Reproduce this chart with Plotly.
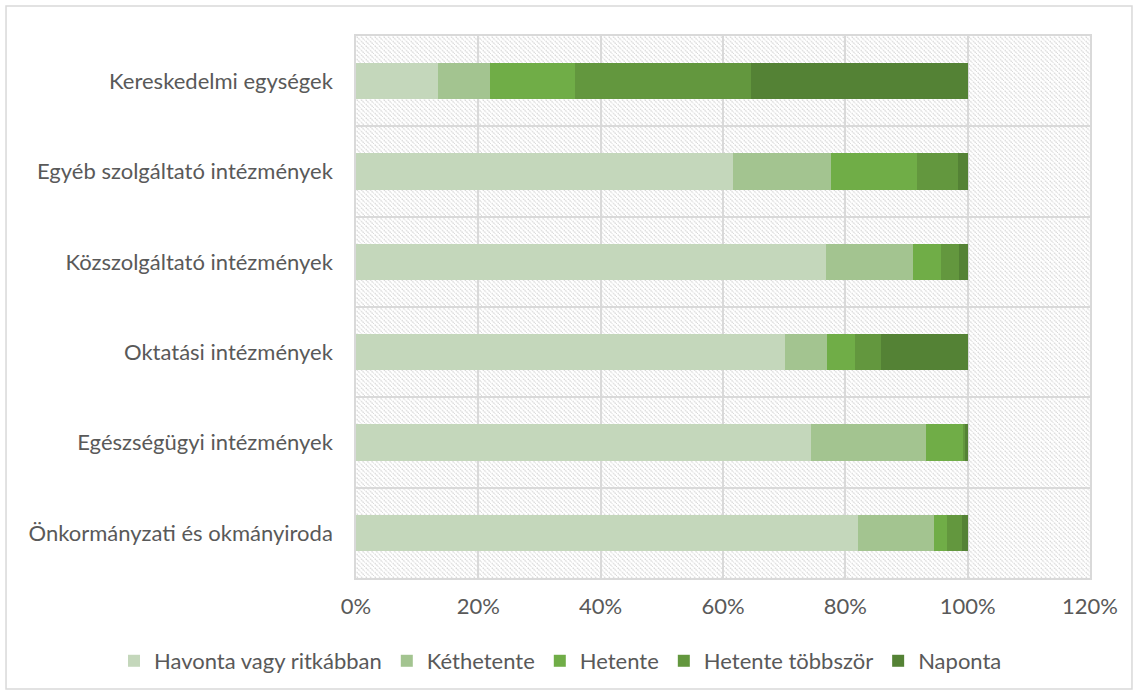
import base64
import plotly.graph_objects as go

categories = [
    "Önkormányzati és okmányiroda",
    "Egészségügyi intézmények",
    "Oktatási intézmények",
    "Közszolgáltató intézmények",
    "Egyéb szolgáltató intézmények",
    "Kereskedelmi egységek",
]

series_names = ["Havonta vagy ritkábban", "Kéthetente", "Hetente", "Hetente többször", "Naponta"]

havonta = [82.1, 74.4, 70.1, 76.8, 61.7, 13.4]
kethetente = [12.4, 18.8, 6.9, 14.3, 15.9, 8.5]
hetente = [2.2, 6.1, 4.6, 4.6, 14.1, 13.9]
hetente_tobbszor = [2.3, 0.3, 4.3, 2.9, 6.8, 28.7]
naponta = [1.0, 0.4, 14.1, 1.4, 1.5, 35.5]

series_values = [havonta, kethetente, hetente, hetente_tobbszor, naponta]
colors = ["#C4D7BB", "#A3C490", "#70AD47", "#63973E", "#548235"]

tick_values = [0, 20, 40, 60, 80, 100, 120]
tick_labels = ["0%", "20%", "40%", "60%", "80%", "100%", "120%"]

FONT = "Lato"
TXT = "#595959"
GRID = "#D9D9D9"
FS = 22

# hatch pattern for the plot area background
W, H = 734, 542
svg = (
    f'<svg xmlns="http://www.w3.org/2000/svg" width="{W}" height="{H}" viewBox="0 0 {W} {H}">'
    '<defs><pattern id="p" width="4.5" height="4.5" patternUnits="userSpaceOnUse">'
    '<path d="M-1,-1 L5.5,5.5" stroke="#C6C6C6" stroke-width="1" stroke-dasharray="1.4,0.9"/>'
    '</pattern></defs>'
    f'<rect width="{W}" height="{H}" fill="white"/>'
    f'<rect width="{W}" height="{H}" fill="url(#p)"/></svg>'
)
svg_uri = "data:image/svg+xml;base64," + base64.b64encode(svg.encode()).decode()

fig = go.Figure()
for name, vals, col in zip(series_names, series_values, colors):
    fig.add_trace(go.Bar(
        y=categories, x=vals, name=name, orientation="h",
        marker=dict(color=col, line=dict(width=0)),
    ))

fig.update_layout(
    barmode="stack",
    bargap=0.6,
    width=1138, height=695,
    margin=dict(l=356, r=48, t=36, b=117, autoexpand=False),
    paper_bgcolor="white",
    plot_bgcolor="rgba(0,0,0,0)",
    font=dict(family=FONT, size=FS, color=TXT),
    showlegend=True,
    legend=dict(
        orientation="h", x=-0.3297, xanchor="left", y=-0.1531, yanchor="middle",
        font=dict(family=FONT, size=FS, color=TXT),
        traceorder="normal", itemwidth=30, bgcolor="rgba(0,0,0,0)",
    ),
    images=[dict(
        source=svg_uri, xref="paper", yref="paper", x=0, y=1,
        sizex=1, sizey=1, sizing="stretch", layer="below", xanchor="left", yanchor="top",
    )],
    shapes=[dict(
        type="rect", xref="paper", yref="paper",
        x0=-0.4768, x1=1.0572, y0=-0.2048, y1=1.0554,
        line=dict(color=GRID, width=1.5), fillcolor="rgba(0,0,0,0)", layer="below",
    )],
)

fig.update_xaxes(
    range=[0, 120], tickvals=tick_values, ticktext=tick_labels,
    showgrid=True, gridcolor=GRID, gridwidth=1.5,
    showline=True, linecolor=GRID, linewidth=1.5, mirror=True,
    zeroline=False, ticks="", ticklabelstandoff=8, automargin=False,
    tickfont=dict(family=FONT, size=FS, color=TXT),
)
fig.update_yaxes(
    type="category", categoryorder="array", categoryarray=categories,
    tickson="boundaries", showgrid=True, gridcolor=GRID, gridwidth=1.5,
    showline=True, linecolor=GRID, linewidth=1.5, mirror=True,
    ticks="", ticklabelstandoff=17, automargin=False,
    tickfont=dict(family=FONT, size=FS, color=TXT),
)

fig.write_html(
    "out.html",
    config={"displayModeBar": False},
    post_script="document.body.style.margin='0';document.body.style.overflow='hidden';",
)
